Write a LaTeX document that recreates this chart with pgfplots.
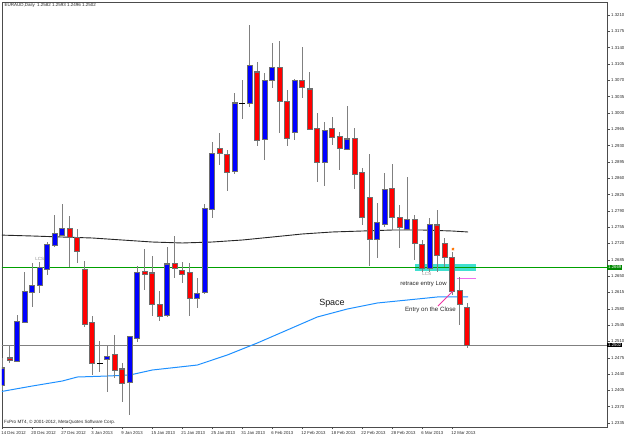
\documentclass[border=0pt]{standalone}
\usepackage{pgfplots}
\usepackage{pgfplotstable}
\pgfplotsset{compat=1.18}
\usepackage{fontspec}
\setmainfont{Liberation Sans}
\definecolor{bullc}{RGB}{0,0,255}
\definecolor{bearc}{RGB}{255,0,0}
\definecolor{wick}{RGB}{128,128,128}
\definecolor{outl}{RGB}{110,110,110}
\definecolor{mablue}{RGB}{30,144,255}
\definecolor{lvlgreen}{RGB}{0,160,0}
\definecolor{band}{RGB}{64,224,208}
\definecolor{pinkl}{RGB}{238,110,238}

\pgfplotstableread{
i o h l c
0 1.24165 1.24744 1.24058 1.24530
2 1.24680 1.25667 1.24659 1.25516
3 1.25516 1.26589 1.25495 1.26160
4 1.26160 1.26782 1.25838 1.26288
5 1.26310 1.26803 1.26138 1.26675
6 1.26653 1.27232 1.26524 1.27168
7 1.27168 1.27811 1.27125 1.27404
8 1.27382 1.28047 1.27361 1.27511
14 1.24723 1.25023 1.24015 1.24766
17 1.24230 1.25216 1.23522 1.25195
18 1.25173 1.26717 1.25088 1.26567
22 1.25667 1.27125 1.25624 1.26760
26 1.26031 1.26460 1.25817 1.26138
27 1.26160 1.28047 1.26117 1.27940
28 1.27940 1.29377 1.27747 1.29119
31 1.28755 1.30428 1.28690 1.30213
33 1.30213 1.31886 1.30127 1.31007
35 1.29441 1.30856 1.28991 1.30706
36 1.30706 1.31500 1.30535 1.30964
39 1.29591 1.30728 1.29420 1.30685
43 1.28948 1.29806 1.28433 1.29613
46 1.29227 1.30149 1.29205 1.29441
50 1.27296 1.28068 1.26889 1.27640
51 1.27618 1.28712 1.27554 1.28369
54 1.27511 1.28626 1.27489 1.27725
57 1.26675 1.27747 1.26589 1.27618
}\bull

\pgfplotstableread{
i o h l c
1 1.24744 1.25023 1.24637 1.24701
9 1.27511 1.27790 1.26696 1.27339
10 1.27339 1.27511 1.26782 1.27039
11 1.26632 1.26825 1.25409 1.25474
12 1.25495 1.25645 1.24380 1.24637
15 1.24809 1.25238 1.24315 1.24487
16 1.24508 1.24637 1.23801 1.24208
19 1.26589 1.27082 1.26203 1.26546
20 1.26567 1.26932 1.25645 1.25902
21 1.25902 1.26181 1.25538 1.25645
23 1.26782 1.27361 1.26460 1.26675
24 1.26610 1.26803 1.26353 1.26546
25 1.26567 1.26782 1.25645 1.26031
29 1.29248 1.29570 1.28883 1.29141
30 1.29119 1.29205 1.28326 1.28733
34 1.30878 1.31092 1.29291 1.29420
37 1.30964 1.31543 1.29570 1.30256
38 1.30256 1.30492 1.29291 1.29463
40 1.30685 1.31414 1.30320 1.30556
41 1.30513 1.30878 1.29634 1.29656
42 1.29656 1.29999 1.28519 1.28948
44 1.29677 1.29913 1.29312 1.29484
45 1.29484 1.29591 1.28776 1.29248
47 1.29441 1.29677 1.28369 1.28690
48 1.28712 1.28819 1.27597 1.27768
49 1.28176 1.29119 1.26717 1.27296
52 1.28369 1.28905 1.27489 1.27768
53 1.27768 1.28026 1.27103 1.27554
55 1.27704 1.27811 1.26846 1.27211
56 1.27168 1.27275 1.26589 1.26675
58 1.27597 1.27918 1.26589 1.26953
59 1.27189 1.27318 1.26696 1.26910
60 1.26910 1.27018 1.26095 1.26181
61 1.26203 1.26481 1.25452 1.25902
62 1.25820 1.25930 1.24960 1.25020
}\bear

\pgfplotstableread{
i o h l c
13 1.24637 1.25109 1.24444 1.24637
32 1.30213 1.30706 1.29870 1.30213
}\doji

\pgfplotstableread{
i v
-0.5 1.27382
4 1.27361
8 1.27339
12 1.27318
16 1.27275
20 1.27232
24 1.27211
28 1.27232
32 1.27275
36 1.27339
40 1.27404
44 1.27447
48 1.27468
52 1.27489
56 1.27489
60 1.27468
62.1 1.27447
}\maslow

\pgfplotstableread{
i v
-0.5 1.24015
4 1.24144
8 1.24251
10 1.24337
14 1.24358
17 1.24380
20 1.24487
26 1.24594
30 1.24809
34 1.25066
38 1.25345
42 1.25624
46 1.25795
50 1.25924
54 1.25988
58 1.26053
62.1 1.26053
}\mafast

\pgfplotsset{
  wicks/.style={draw=none, mark=none, forget plot,
    error bars/.cd, y dir=both, y explicit, error mark=none,
    error bar style={line width=1bp, draw=wick, line cap=butt}},
  body/.style 2 args={draw=none, mark=none, forget plot,
    error bars/.cd, y dir=both, y explicit, error mark=none,
    error bar style={line width=#2, draw=#1, line cap=butt}},
}

\begin{document}
\begin{tikzpicture}
\begin{axis}[
  at={(2bp,8bp)}, anchor=south west,
  scale only axis, width=605bp, height=425bp,
  xmin=-0.04, xmax=80.63, ymin=1.23265, ymax=1.32379,
  axis line style={black!70, line width=0.6bp},
  clip mode=individual,
  xtick={0,4,8,12,16,20,24,28,32,36,40,44,48,52,56,60},
  xticklabels={14 Dec 2012,20 Dec 2012,27 Dec 2012,3 Jan 2013,9 Jan 2013,15 Jan 2013,21 Jan 2013,25 Jan 2013,31 Jan 2013,6 Feb 2013,12 Feb 2013,18 Feb 2013,22 Feb 2013,28 Feb 2013,6 Mar 2013,12 Mar 2013},
  xtick pos=left, ytick pos=right, yticklabel pos=right,
  tick align=outside, major tick length=2.5bp,
  tick style={black!70, line width=0.5bp},
  ytick={1.2335,1.2370,1.2405,1.2440,1.2475,1.2510,1.2545,1.2580,1.2615,1.2650,1.2685,1.2720,1.2755,1.2790,1.2825,1.2860,1.2895,1.2930,1.2965,1.3000,1.3035,1.3070,1.3105,1.3140,1.3175,1.3210},
  /pgf/number format/assume math mode=true,
  y tick label style={/pgf/number format/fixed, /pgf/number format/fixed zerofill, /pgf/number format/precision=4, anchor=west, inner sep=0pt, xshift=1.5bp},
  tick label style={font=\fontsize{4.3}{5}\selectfont, text=black!85},
  x tick label style={anchor=north west, inner sep=0pt, xshift=-1bp, yshift=-1.8bp},
]
% cyan band
\addplot[fill=band, draw=none, forget plot] coordinates {(55.03,1.26610) (63.16,1.26610) (63.16,1.26760) (55.03,1.26760)} -- cycle;
% level lines
\addplot[lvlgreen, line width=1bp, forget plot] coordinates {(-1,1.2669) (81,1.2669)};
\addplot[wick, line width=0.8bp, forget plot] coordinates {(-1,1.2502) (81,1.2502)};
% moving averages
\addplot[black!85, line width=0.9bp, forget plot] table[x=i, y=v] {\maslow};
\addplot[mablue, line width=1bp, forget plot] table[x=i, y=v] {\mafast};
% small labels behind candles
\node[inner sep=0pt, font=\fontsize{4.5}{5}\selectfont, text=black!45] at (axis cs:5.0,1.26860) {LCS};
\node[inner sep=0pt, font=\fontsize{4.6}{5}\selectfont, text=black!45] at (axis cs:56.6,1.26540) {LCS};
% pink line
\addplot[pinkl, line width=0.9bp, forget plot] coordinates {(60.63,1.26460) (63.16,1.26460)};
% candles: wicks
\addplot[wicks] table[x=i, y expr={(\thisrow{h}+\thisrow{l})/2}, y error expr={(\thisrow{h}-\thisrow{l})/2}] {\bull};
\addplot[wicks] table[x=i, y expr={(\thisrow{h}+\thisrow{l})/2}, y error expr={(\thisrow{h}-\thisrow{l})/2}] {\bear};
\addplot[wicks] table[x=i, y expr={(\thisrow{h}+\thisrow{l})/2}, y error expr={(\thisrow{h}-\thisrow{l})/2}] {\doji};
% bodies outline
\addplot[body={outl}{5.6bp}] table[x=i, y expr={(\thisrow{o}+\thisrow{c})/2}, y error expr={abs(\thisrow{o}-\thisrow{c})/2+0.00012}] {\bull};
\addplot[body={outl}{5.6bp}] table[x=i, y expr={(\thisrow{o}+\thisrow{c})/2}, y error expr={abs(\thisrow{o}-\thisrow{c})/2+0.00012}] {\bear};
\addplot[body={black}{5.6bp}] table[x=i, y expr={(\thisrow{o}+\thisrow{c})/2}, y error expr={0.0001}] {\doji};
% bodies fill
\addplot[body={bullc}{4.2bp}] table[x=i, y expr={(\thisrow{o}+\thisrow{c})/2}, y error expr={max(abs(\thisrow{o}-\thisrow{c})/2-0.00010,0)}] {\bull};
\addplot[body={bearc}{4.2bp}] table[x=i, y expr={(\thisrow{o}+\thisrow{c})/2}, y error expr={max(abs(\thisrow{o}-\thisrow{c})/2-0.00010,0)}] {\bear};
% annotations
\addplot[only marks, mark=x, mark size=1.6bp, color=orange!90!red, line width=0.8bp, forget plot] coordinates {(60.09,1.27080)};
\addplot[magenta!80, line width=0.9bp, forget plot] coordinates {(60.09,1.26181) (58.09,1.25860)};
\node[inner sep=0pt, font=\fontsize{6}{7}\selectfont, text=black!85] at (axis cs:56.16,1.26340) {retrace entry Low};
\node[inner sep=0pt, font=\fontsize{6.2}{7}\selectfont, text=black!85] at (axis cs:57.09,1.25774) {Entry on the Close};
\node[inner sep=0pt, font=\fontsize{9}{10}\selectfont, text=black!90] at (axis cs:43.96,1.25924) {Space};
\node[anchor=west, inner sep=0pt, font=\fontsize{4.5}{5}\selectfont, text=black!85] at (axis description cs:0.004,0.992) {EURAUD,Daily\ \ 1.2582 1.2593 1.2496 1.2502};
\node[anchor=west, inner sep=0pt, font=\fontsize{4.6}{5}\selectfont, text=black!85] at (axis description cs:0.003,0.010) {FxPro MT4, \textcopyright\ 2001-2012, MetaQuotes Software Corp.};
% price boxes
\node[anchor=west, fill=lvlgreen!85!black, text=white, inner xsep=1bp, inner ysep=0.8bp, font=\fontsize{4.3}{5}\selectfont] at (axis cs:80.63,1.2669) {1.2669};
\node[anchor=west, fill=black, text=white, inner xsep=1bp, inner ysep=0.8bp, font=\fontsize{4.3}{5}\selectfont] at (axis cs:80.63,1.2502) {1.2502};
\end{axis}
\pgfresetboundingbox
\useasboundingbox (0,0) rectangle (625bp,435bp);
\end{tikzpicture}
\end{document}
